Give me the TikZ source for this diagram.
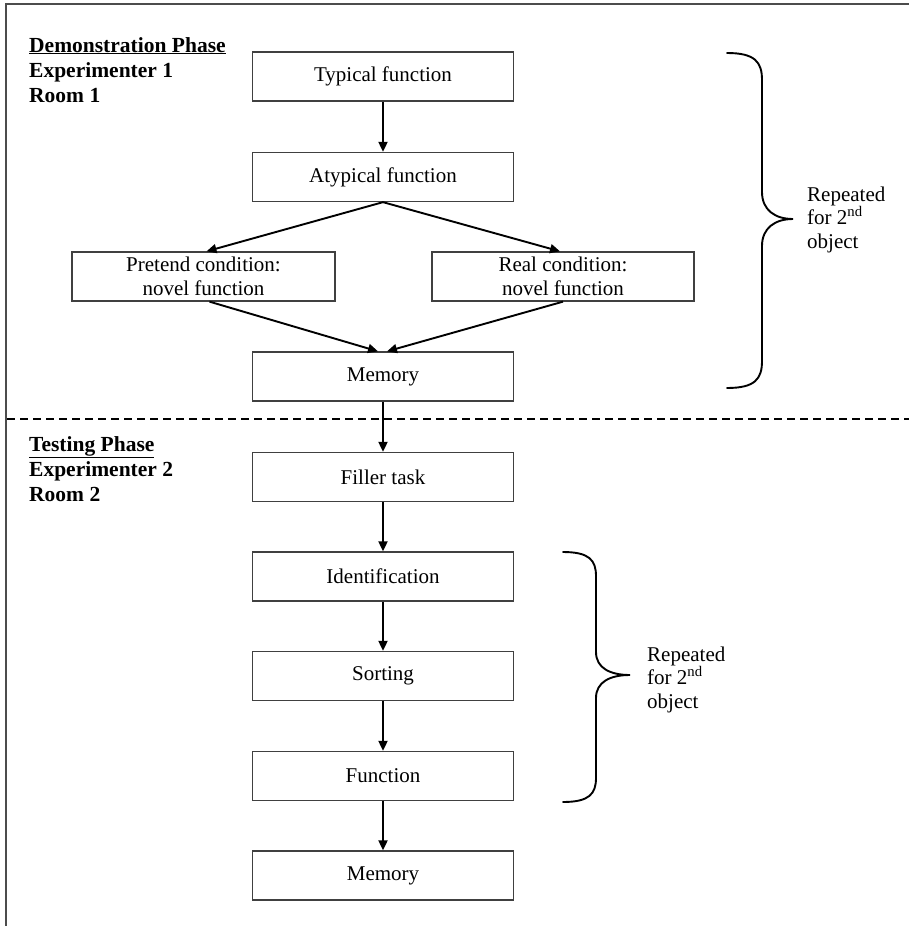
\documentclass[tikz,border=0pt]{standalone}
\usepackage{fontspec}
\setmainfont{Liberation Serif}
\usetikzlibrary{arrows.meta}
\tikzset{
  stepbox/.style={draw=black!75, line width=1.3pt, rectangle, minimum width=261pt, minimum height=49pt, inner sep=0pt, align=center, font=\fontsize{21}{23.5}\selectfont},
  conn/.style={line width=1.9pt, -{Triangle[length=10pt,width=9pt]}},
  bracepath/.style={line width=1.9pt, line cap=round},
  sidelabel/.style={anchor=base west, inner sep=0pt, font=\fontsize{21.5}{24}\selectfont\bfseries},
  reptext/.style={anchor=base west, inner sep=0pt, align=left, font=\fontsize{21}{23.5}\selectfont},
  frame/.style={draw=black!70, line width=1.4pt}
}
\begin{document}
\begin{tikzpicture}[x=1pt,y=-1pt]
\useasboundingbox (0,0) rectangle (909,926);
% frame
\draw[frame] (909,4) -- (6,4) -- (6,926);
% dashed separator
\draw[line width=1.8pt, dash pattern=on 8pt off 5pt] (7,419) -- (909,419);

% left labels
\node[sidelabel] (d1) at (29,52) {\underline{Demonstration Phase}};
\node[sidelabel] (d2) at (29,77) {Experimenter 1};
\node[sidelabel] (d3) at (29,102) {Room 1};
\node[sidelabel] (t1) at (29,451) {\underline{Testing Phase}};
\node[sidelabel] (t2) at (29,476) {Experimenter 2};
\node[sidelabel] (t3) at (29,501) {Room 2};

% boxes
\node[stepbox] (typ) at (383,76.5) {Typical function};
\node[stepbox] (aty) at (383,177) {Atypical function};
\node[stepbox, minimum width=263pt] (pre) at (203.5,276.5) {Pretend condition:\\novel function};
\node[stepbox, minimum width=262pt] (real) at (563,276.5) {Real condition:\\novel function};
\node[stepbox] (mem1) at (383,376.5) {Memory};
\node[stepbox] (fill) at (383,477) {Filler task};
\node[stepbox] (ident) at (383,576.5) {Identification};
\node[stepbox] (sort) at (383,676) {Sorting};
\node[stepbox] (func) at (383,776) {Function};
\node[stepbox] (mem2) at (383,875.5) {Memory};

% connectors
\draw[conn] (typ.south) -- (aty.north);
\draw[conn] (aty.south) -- ([xshift=3pt]pre.north);
\draw[conn] (aty.south) -- ([xshift=-3pt]real.north);
\draw[conn] ([xshift=6pt]pre.south) -- ([xshift=-5pt]mem1.north);
\draw[conn] (real.south) -- ([xshift=4pt]mem1.north);
\draw[conn] (mem1.south) -- (fill.north);
\draw[conn] (fill.south) -- (ident.north);
\draw[conn] (ident.south) -- (sort.north);
\draw[conn] (sort.south) -- (func.north);
\draw[conn] (func.south) -- (mem2.north);

% brace 1
\draw[bracepath] (727,53) .. controls (755,53) and (762,62) .. (762,80)
  -- (762,192) .. controls (762,210) and (775,219) .. (793,219)
  .. controls (775,219) and (762,228) .. (762,246)
  -- (762,361) .. controls (762,379) and (755,388) .. (727,388);
\node[reptext] (rep1) at (807,248) {Repeated\\for 2\textsuperscript{nd}\\object};

% brace 2
\draw[bracepath] (563,552) .. controls (589,552) and (596,560) .. (596,576)
  -- (596,652) .. controls (596,668) and (610,675) .. (630,675)
  .. controls (610,675) and (596,682) .. (596,698)
  -- (596,778) .. controls (596,794) and (589,802) .. (563,802);
\node[reptext] (rep2) at (647,708) {Repeated\\for 2\textsuperscript{nd}\\object};
\end{tikzpicture}
\end{document}
